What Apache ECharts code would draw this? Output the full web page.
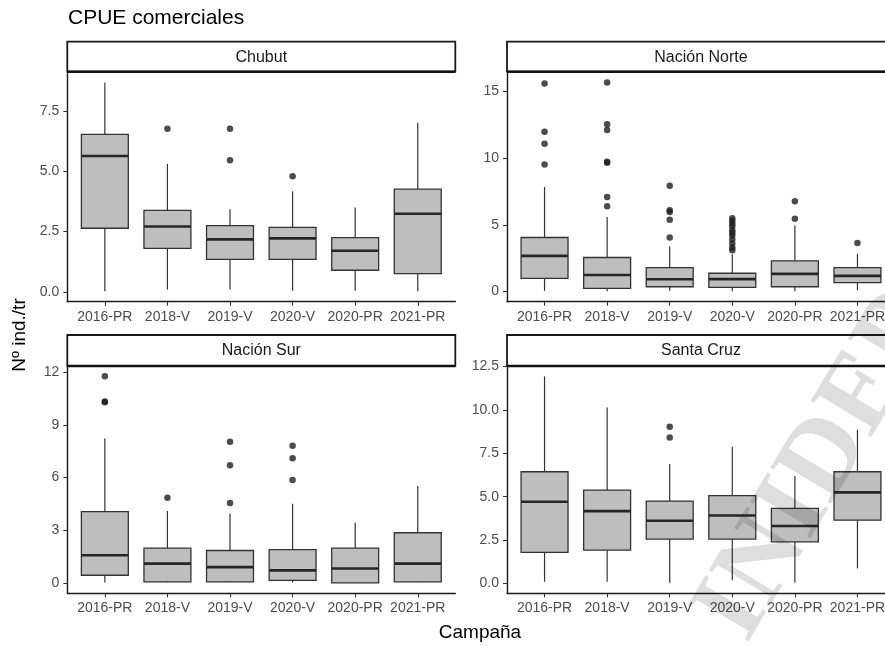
<!DOCTYPE html>
<html>
<head>
<meta charset="utf-8">
<script src="https://cdn.jsdelivr.net/npm/echarts@6/dist/echarts.min.js"></script>
<style>
  html, body { margin: 0; padding: 0; background: #ffffff; }
  #chart { width: 885px; height: 646px; }
</style>
</head>
<body>
<div id="chart"></div>
<script>
// Campaigns shown on every panel's x axis
const categories = ['2016-PR', '2018-V', '2019-V', '2020-V', '2020-PR', '2021-PR'];

// Five-number summaries per campaign: [lower whisker, Q1, median, Q3, upper whisker]
const chubutBoxes = [
  [0.03, 2.64, 5.63, 6.53, 8.68],
  [0.10, 1.81, 2.71, 3.38, 5.31],
  [0.10, 1.35, 2.18, 2.75, 3.43],
  [0.05, 1.35, 2.22, 2.68, 4.17],
  [0.05, 0.90, 1.71, 2.25, 3.50],
  [0.03, 0.76, 3.24, 4.26, 7.01]
];
const chubutOutliers = [[], [6.76], [6.76, 5.46], [4.79], [], []];

const norteBoxes = [
  [0.05, 0.99, 2.67, 4.05, 7.84],
  [0.02, 0.24, 1.24, 2.55, 5.58],
  [0.05, 0.36, 0.92, 1.79, 3.38],
  [0.02, 0.31, 0.93, 1.37, 2.80],
  [0.02, 0.36, 1.32, 2.30, 4.96],
  [0.10, 0.67, 1.17, 1.79, 2.82]
];
const norteOutliers = [
  [15.60, 11.99, 11.08, 9.53],
  [15.68, 12.54, 12.11, 9.73, 9.65, 7.09, 6.39],
  [7.94, 6.09, 5.96, 5.38, 4.05],
  [5.50, 5.30, 5.10, 4.90, 4.60, 4.40, 4.20, 3.90, 3.60, 3.30, 3.10],
  [6.77, 5.46],
  [3.63]
];

const surBoxes = [
  [0.02, 0.44, 1.58, 4.06, 8.23],
  [0.04, 0.06, 1.10, 1.98, 4.10],
  [0.04, 0.06, 0.90, 1.85, 3.96],
  [0.02, 0.15, 0.72, 1.90, 4.51],
  [0.00, 0.00, 0.82, 1.98, 3.43],
  [0.04, 0.06, 1.10, 2.86, 5.52]
];
const surOutliers = [[11.77, 10.34, 10.29], [4.86], [8.04, 6.70, 4.55], [7.81, 7.10, 5.87], [], []];

const santaCruzBoxes = [
  [0.10, 1.79, 4.71, 6.44, 11.94],
  [0.10, 1.92, 4.17, 5.38, 10.15],
  [0.03, 2.56, 3.62, 4.75, 6.88],
  [0.19, 2.56, 3.92, 5.06, 7.88],
  [0.04, 2.40, 3.31, 4.33, 6.19],
  [0.87, 3.65, 5.25, 6.44, 8.85]
];
const santaCruzOutliers = [[], [], [9.04, 8.42], [], [], []];

// Tick labels of each panel's y axis
const chubutTicks = ['0.0', '2.5', '5.0', '7.5'];
const norteTicks = ['0', '5', '10', '15'];
const surTicks = ['0', '3', '6', '9', '12'];
const santaCruzTicks = ['0.0', '2.5', '5.0', '7.5', '10.0', '12.5'];

const panelNames = ['Chubut', 'Nación Norte', 'Nación Sur', 'Santa Cruz'];

// ---- layout ----
const FONT = '"Liberation Sans", Arial, Helvetica, sans-serif';
const PANEL_W = 388;
const COL_X = [67.3, 507];
const ROWS = [
  { stripTop: 41.7, stripH: 30, top: 72, height: 229.7 },
  { stripTop: 335, stripH: 31, top: 366, height: 227.3 }
];
const BOX_FRACTION = 0.75;   // box width in category units
const AXIS_PAD = 0.6;        // discrete axis padding on each side

const panels = [
  { boxes: chubutBoxes, outliers: chubutOutliers, ticks: chubutTicks, col: 0, row: 0 },
  { boxes: norteBoxes, outliers: norteOutliers, ticks: norteTicks, col: 1, row: 0 },
  { boxes: surBoxes, outliers: surOutliers, ticks: surTicks, col: 0, row: 1 },
  { boxes: santaCruzBoxes, outliers: santaCruzOutliers, ticks: santaCruzTicks, col: 1, row: 1 }
];

// continuous scale expanded by 5% of the data range on both ends
function expandedRange(boxes, outliers) {
  let lo = Infinity, hi = -Infinity;
  boxes.forEach(b => { lo = Math.min(lo, b[0]); hi = Math.max(hi, b[4]); });
  outliers.forEach(list => list.forEach(v => { lo = Math.min(lo, v); hi = Math.max(hi, v); }));
  const pad = (hi - lo) * 0.05;
  return [lo - pad, hi + pad];
}

function renderBox(params, api) {
  const x = api.value(0);
  const pLo = api.coord([x, api.value(1)]);
  const pQ1 = api.coord([x, api.value(2)]);
  const pMed = api.coord([x, api.value(3)]);
  const pQ3 = api.coord([x, api.value(4)]);
  const pHi = api.coord([x, api.value(5)]);
  const half = api.size([BOX_FRACTION, 0])[0] / 2;
  const stroke = '#333333';
  return {
    type: 'group',
    children: [
      { type: 'line', shape: { x1: pHi[0], y1: pHi[1], x2: pQ3[0], y2: pQ3[1] },
        style: { stroke: stroke, lineWidth: 1.2 } },
      { type: 'line', shape: { x1: pQ1[0], y1: pQ1[1], x2: pLo[0], y2: pLo[1] },
        style: { stroke: stroke, lineWidth: 1.2 } },
      { type: 'rect', shape: { x: pQ3[0] - half, y: pQ3[1], width: half * 2, height: pQ1[1] - pQ3[1] },
        style: { fill: '#bebebe', stroke: stroke, lineWidth: 1.3 } },
      { type: 'line', shape: { x1: pMed[0] - half, y1: pMed[1], x2: pMed[0] + half, y2: pMed[1] },
        style: { stroke: '#262626', lineWidth: 2.6 } }
    ]
  };
}

const grids = [], xAxes = [], yAxes = [], series = [], graphics = [];
const catIdx = categories.map((c, i) => i);

panels.forEach((p, k) => {
  const row = ROWS[p.row];
  const left = COL_X[p.col];
  grids.push({ left: left, top: row.top, width: PANEL_W, height: row.height, outerBoundsMode: 'none' });

  xAxes.push({
    gridIndex: k, type: 'value', min: -AXIS_PAD, max: categories.length - 1 + AXIS_PAD,
    splitLine: { show: false },
    axisLine: { onZero: false, lineStyle: { color: '#1a1a1a', width: 1.4 } },
    axisTick: { customValues: catIdx, length: 4, lineStyle: { color: '#333333', width: 1.1 } },
    axisLabel: { customValues: catIdx, formatter: v => categories[v], color: '#4d4d4d',
                 fontSize: 14, fontFamily: FONT, margin: 8 }
  });

  const tickVals = p.ticks.map(Number);
  const range = expandedRange(p.boxes, p.outliers);
  yAxes.push({
    gridIndex: k, type: 'value', min: range[0], max: range[1],
    splitLine: { show: false },
    axisLine: { onZero: false, lineStyle: { color: '#1a1a1a', width: 1.4 } },
    axisTick: { customValues: tickVals, length: 4, lineStyle: { color: '#333333', width: 1.1 } },
    axisLabel: { customValues: tickVals, formatter: v => p.ticks[tickVals.indexOf(v)],
                 color: '#4d4d4d', fontSize: 14, fontFamily: FONT, margin: 8 }
  });

  series.push({
    type: 'custom', xAxisIndex: k, yAxisIndex: k, renderItem: renderBox,
    encode: { x: 0, y: [1, 2, 3, 4, 5] },
    data: p.boxes.map((b, i) => [i].concat(b)),
    silent: true, z: 2
  });

  const pts = [];
  p.outliers.forEach((list, i) => list.forEach(v => pts.push([i, v])));
  series.push({
    type: 'scatter', xAxisIndex: k, yAxisIndex: k, data: pts,
    symbol: 'circle', symbolSize: 6.5,
    itemStyle: { color: '#1f1f1f' }, silent: true, z: 3
  });

  // facet strip above the panel
  graphics.push({
    type: 'rect', silent: true, z: 10,
    shape: { x: left, y: row.stripTop, width: PANEL_W, height: row.stripH },
    style: { fill: '#ffffff', stroke: '#1a1a1a', lineWidth: 1.8 }
  });
  graphics.push({
    type: 'line', silent: true, z: 11,
    shape: { x1: left, y1: row.stripTop + row.stripH, x2: left + PANEL_W, y2: row.stripTop + row.stripH },
    style: { stroke: '#111111', lineWidth: 2.6 }
  });
  graphics.push({
    type: 'text', silent: true, z: 12,
    x: left + PANEL_W / 2, y: row.stripTop + row.stripH / 2 + 0.5,
    style: { text: panelNames[k], fill: '#1a1a1a', font: '16px ' + FONT,
             textAlign: 'center', textVerticalAlign: 'middle' }
  });
});

// titles
graphics.push({
  type: 'text', silent: true, x: 68, y: 18.5,
  style: { text: 'CPUE comerciales', fill: '#000000', font: '21px ' + FONT,
           textAlign: 'left', textVerticalAlign: 'middle' }
});
graphics.push({
  type: 'text', silent: true, x: 480, y: 633,
  style: { text: 'Campaña', fill: '#000000', font: '19px ' + FONT,
           textAlign: 'center', textVerticalAlign: 'middle' }
});
graphics.push({
  type: 'text', silent: true, x: 20, y: 335, rotation: Math.PI / 2,
  style: { text: 'Nº ind./tr', fill: '#000000', font: '19px ' + FONT,
           textAlign: 'center', textVerticalAlign: 'middle' }
});
// institutional watermark
graphics.push({
  type: 'text', silent: true, z: 100, x: 820, y: 468, rotation: 1.03,
  style: { text: 'INIDEP', fill: 'rgba(0,0,0,0.13)',
           font: 'bold 108px "Liberation Serif", "Times New Roman", serif',
           textAlign: 'center', textVerticalAlign: 'middle' }
});

const chart = echarts.init(document.getElementById('chart'), null, { renderer: 'canvas' });
chart.setOption({
  backgroundColor: '#ffffff',
  animation: false,
  grid: grids,
  xAxis: xAxes,
  yAxis: yAxes,
  series: series,
  graphic: graphics
});
</script>
</body>
</html>
